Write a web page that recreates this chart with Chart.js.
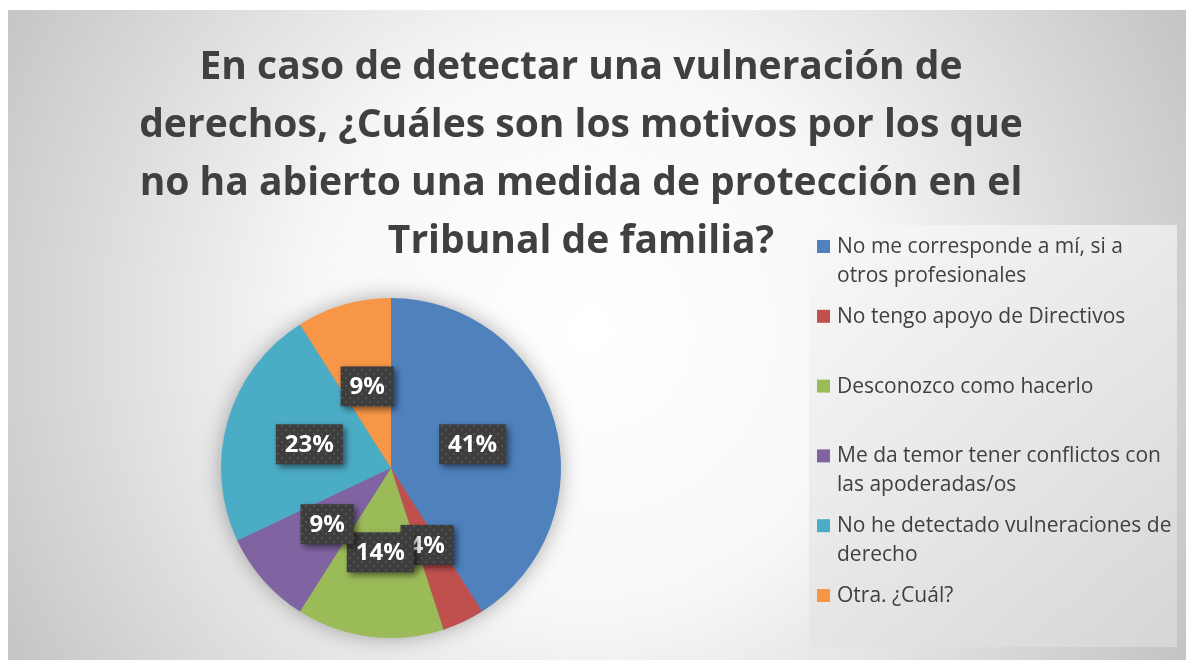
<!DOCTYPE html>
<html>
<head>
<meta charset="utf-8">
<script src="https://cdn.jsdelivr.net/npm/chart.js@4.4.1/dist/chart.umd.min.js"></script>
<style>
  body { margin: 0; background: #fff; }
  canvas { display: block; }
</style>
</head>
<body>
<canvas id="motivos-chart" width="1186" height="660"></canvas>
<script>
const titleLines = [
    'En caso de detectar una vulneración de',
    'derechos, ¿Cuáles son los motivos por los que',
    'no ha abierto una medida de protección en el',
    'Tribunal de familia?'
];
const categories = [
    'No me corresponde a mí, si a otros profesionales',
    'No tengo apoyo de Directivos',
    'Desconozco como hacerlo',
    'Me da temor tener conflictos con las apoderadas/os',
    'No he detectado vulneraciones de derecho',
    'Otra. ¿Cuál?'
];
const percents = [41, 4, 14, 9, 23, 9];
const sliceColors = ['#4F81BD', '#C0504D', '#9BBB59', '#8064A2', '#4BACC6', '#F79646'];

const FONT = '"Open Sans", Lato, sans-serif';
const TEXT_COLOR = '#404040';

function wrapText(ctx, text, maxWidth) {
    const words = text.split(' ');
    const lines = [];
    let line = '';
    words.forEach(w => {
        const test = line ? line + ' ' + w : w;
        if (ctx.measureText(test).width > maxWidth && line) {
            lines.push(line);
            line = w;
        } else {
            line = test;
        }
    });
    lines.push(line);
    return lines;
}

function makeDotPattern(ctx) {
    const p = document.createElement('canvas');
    p.width = 8;
    p.height = 8;
    const c = p.getContext('2d');
    c.fillStyle = '#3d3d3d';
    c.fillRect(0, 0, 8, 8);
    c.fillStyle = '#525252';
    c.fillRect(1, 1, 2, 2);
    c.fillRect(5, 5, 2, 2);
    return ctx.createPattern(p, 'repeat');
}

// fondo, titulo y leyenda dibujados a mano
const decorPlugin = {
    id: 'decor',
    beforeDraw(chart) {
        const ctx = chart.ctx;
        ctx.save();
        ctx.fillStyle = '#ffffff';
        ctx.fillRect(0, 0, chart.width, chart.height);

        const bg = ctx.createRadialGradient(590, 330, 0, 590, 330, 690);
        bg.addColorStop(0, '#ffffff');
        bg.addColorStop(0.4, '#f8f8f8');
        bg.addColorStop(1, '#c2c2c2');
        ctx.fillStyle = bg;
        ctx.fillRect(8, 10, chart.width - 8, chart.height - 10);

        const lg = ctx.createLinearGradient(809, 225, 1177, 647);
        lg.addColorStop(0, '#f9f9f9');
        lg.addColorStop(1, '#d6d6d6');
        ctx.fillStyle = lg;
        ctx.fillRect(809, 225, 368, 422);

        ctx.fillStyle = TEXT_COLOR;
        ctx.font = 'bold 39px ' + FONT;
        ctx.textAlign = 'center';
        ctx.textBaseline = 'alphabetic';
        titleLines.forEach((line, i) => {
            ctx.fillText(line, 581, 79 + i * 58);
        });
        ctx.restore();
    },
    afterDraw(chart) {
        const ctx = chart.ctx;
        ctx.save();
        ctx.font = '21px ' + FONT;
        ctx.textAlign = 'left';
        ctx.textBaseline = 'middle';
        chart.data.labels.forEach((label, i) => {
            const y = 247 + i * 69.8;
            ctx.fillStyle = chart.data.datasets[0].backgroundColor[i];
            ctx.fillRect(817, y - 7, 13, 13);
            ctx.fillStyle = TEXT_COLOR;
            wrapText(ctx, label, 338).forEach((line, j) => {
                ctx.fillText(line, 837, y + j * 29);
            });
        });
        ctx.restore();
    }
};

const pieLabelPlugin = {
    id: 'pieLabels',
    beforeDatasetsDraw(chart) {
        const arc = chart.getDatasetMeta(0).data[0];
        if (!arc) return;
        const ctx = chart.ctx;
        ctx.save();
        ctx.shadowColor = 'rgba(0, 0, 0, 0.35)';
        ctx.shadowBlur = 22;
        ctx.fillStyle = '#888888';
        ctx.beginPath();
        ctx.arc(arc.x, arc.y, arc.outerRadius - 1, 0, Math.PI * 2);
        ctx.fill();
        ctx.restore();
    },
    afterDatasetsDraw(chart) {
        const ctx = chart.ctx;
        const meta = chart.getDatasetMeta(0);
        const values = chart.data.datasets[0].data;
        const total = values.reduce((a, b) => a + b, 0);
        const dots = makeDotPattern(ctx);
        ctx.save();
        ctx.font = 'bold 24px ' + FONT;
        meta.data.forEach((arc, i) => {
            const pos = arc.tooltipPosition();
            const text = Math.round(values[i] / total * 100) + '%';
            const w = ctx.measureText(text).width + 18;
            const h = 40;
            ctx.shadowColor = 'rgba(0, 0, 0, 0.5)';
            ctx.shadowBlur = 6;
            ctx.shadowOffsetX = 3;
            ctx.shadowOffsetY = 3;
            ctx.fillStyle = dots;
            ctx.fillRect(pos.x - w / 2, pos.y - h / 2, w, h);
            ctx.shadowColor = 'transparent';
            ctx.fillStyle = '#ffffff';
            ctx.textAlign = 'center';
            ctx.textBaseline = 'middle';
            ctx.fillText(text, pos.x, pos.y + 1);
        });
        ctx.restore();
    }
};

const ctx = document.getElementById('motivos-chart').getContext('2d');
const chart = new Chart(ctx, {
    type: 'pie',
    data: {
        labels: categories,
        datasets: [{
            data: percents,
            backgroundColor: sliceColors,
            borderWidth: 0
        }]
    },
    options: {
        responsive: false,
        animation: false,
        layout: {
            padding: { left: 221, right: 625, top: 298, bottom: 22 }
        },
        plugins: {
            legend: { display: false },
            title: { display: false },
            tooltip: { enabled: false }
        }
    },
    plugins: [decorPlugin, pieLabelPlugin]
});
</script>
</body>
</html>
